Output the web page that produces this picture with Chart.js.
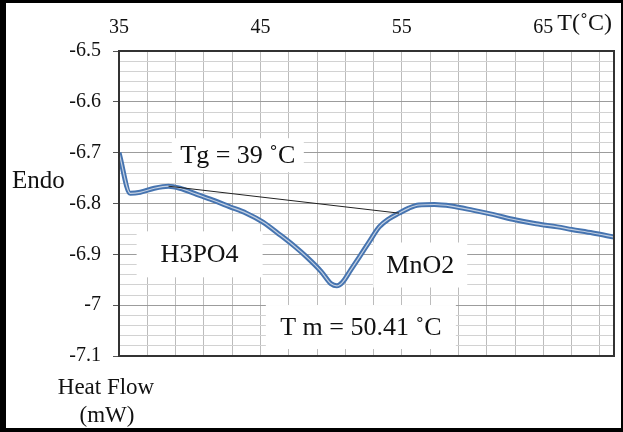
<!DOCTYPE html>
<html>
<head>
<meta charset="utf-8">
<title>DSC heat flow</title>
<script src="https://cdn.jsdelivr.net/npm/chart.js@4.4.1/dist/chart.umd.min.js"></script>
<style>
    html, body { margin: 0; padding: 0; background: #fff; }
    #wrap { width: 623px; height: 432px; position: relative; }
</style>
</head>
<body>
<div id="wrap"><canvas id="dscChart" width="623" height="432"></canvas></div>
<script>
/* ========================================
   DSC trace - heat flow vs temperature
   ======================================== */

// temperature (°C)
const temps = [35.0, 35.8, 36.5, 37.5, 38.5, 39.3, 40.5, 41.6, 42.8, 44.0,
               45.2, 46.4, 47.4, 48.3, 49.3, 50.0, 50.4, 50.8, 51.4, 52.0,
               52.7, 53.4, 54.1, 54.8, 55.5, 56.2, 57.3, 58.5, 60.0, 61.5,
               63.0, 64.5, 66.0, 67.0, 68.5, 70.0];

// heat flow (mW)
const heatFlow = [-6.700, -6.780, -6.778, -6.770, -6.766, -6.770, -6.782, -6.793, -6.806, -6.819,
                  -6.837, -6.862, -6.884, -6.906, -6.934, -6.958, -6.962, -6.955, -6.930, -6.905,
                  -6.875, -6.846, -6.830, -6.819, -6.809, -6.803, -6.802, -6.805, -6.813, -6.822,
                  -6.832, -6.840, -6.846, -6.851, -6.858, -6.866];

// baseline tangent used for Tg
const tangentT = [38.5, 54.8];
const tangentV = [-6.766, -6.819];

const xTickLabels = [35, 45, 55, 65];
const yTickLabels = [-6.5, -6.6, -6.7, -6.8, -6.9, -7, -7.1];

// text notes placed in data units
const notes = [
    { text: 'Tg = 39 \u02daC',      t: 43.4, v: -6.705, w: 132, h: 34 },
    { text: 'H3PO4',                t: 40.7, v: -6.900, w: 126, h: 46 },
    { text: 'MnO2',                 t: 56.3, v: -6.921, w: 94,  h: 45 },
    { text: 'T m = 50.41 \u02daC',  t: 52.1, v: -7.043, w: 190, h: 44 }
];

const SERIF = '"Liberation Serif", "Times New Roman", serif';

function isMajorY(v) {
    return yTickLabels.some(l => Math.abs(l - v) < 1e-6);
}

const pairs = (xs, ys) => xs.map((x, i) => ({ x: x, y: ys[i] }));

const framePlugin = {
    id: 'frame',
    beforeDatasetsDraw(chart) {
        const ctx = chart.ctx;
        const xs = chart.scales.x, ys = chart.scales.y;
        ctx.save();
        ctx.font = '26px ' + SERIF;
        ctx.textAlign = 'center';
        ctx.textBaseline = 'middle';
        notes.forEach(n => {
            const cx = xs.getPixelForValue(n.t);
            const cy = ys.getPixelForValue(n.v);
            ctx.fillStyle = '#fff';
            ctx.fillRect(cx - n.w / 2, cy - n.h / 2, n.w, n.h);
            ctx.fillStyle = '#111';
            ctx.fillText(n.text, cx, cy + 1);
        });
        ctx.restore();
    },
    afterDraw(chart) {
        const ctx = chart.ctx;
        const a = chart.chartArea;
        ctx.save();
        // plot frame
        ctx.strokeStyle = '#333';
        ctx.lineWidth = 2;
        ctx.strokeRect(a.left, a.top, a.right - a.left, a.bottom - a.top);

        // axis captions
        ctx.fillStyle = '#111';
        ctx.textBaseline = 'middle';
        ctx.textAlign = 'left';
        ctx.font = '25px ' + SERIF;
        ctx.fillText('Endo', 12, 181);
        ctx.font = '24px ' + SERIF;
        ctx.fillText('T(\u02daC)', chart.scales.x.getPixelForValue(65) + 14, 24);
        ctx.textAlign = 'center';
        ctx.font = '23px ' + SERIF;
        ctx.fillText('Heat Flow', 106, 388);
        ctx.fillText('(mW)', 107, 416);

        // outer black border
        ctx.fillStyle = '#000';
        ctx.fillRect(0, 0, 623, 3);
        ctx.fillRect(0, 428, 623, 4);
        ctx.fillRect(0, 0, 6, 432);
        ctx.fillRect(621, 0, 2, 432);
        ctx.restore();
    }
};

new Chart(document.getElementById('dscChart'), {
    type: 'line',
    data: {
        datasets: [
            {
                label: 'tangent',
                data: pairs(tangentT, tangentV),
                borderColor: '#222',
                borderWidth: 1,
                pointRadius: 0,
                tension: 0
            },
            {
                label: 'inner',
                data: pairs(temps, heatFlow),
                borderColor: '#c3d0e2',
                borderWidth: 1.2,
                pointRadius: 0,
                cubicInterpolationMode: 'monotone'
            },
            {
                label: 'heat flow',
                data: pairs(temps, heatFlow),
                borderColor: '#4674b0',
                borderWidth: 5,
                pointRadius: 0,
                cubicInterpolationMode: 'monotone'
            }
        ]
    },
    options: {
        responsive: false,
        animation: false,
        layout: { padding: { left: 0, top: 0, right: 9, bottom: 76 } },
        plugins: {
            legend: { display: false },
            tooltip: { enabled: false }
        },
        scales: {
            x: {
                type: 'linear',
                position: 'top',
                min: 35,
                max: 70,
                afterBuildTicks: function(scale) {
                    const t = [];
                    for (let v = 35; v <= 69; v += 2) t.push({ value: v });
                    scale.ticks = t;
                },
                afterFit: function(scale) { scale.height = 51; },
                border: { display: false },
                grid: {
                    color: '#bcbcbc',
                    lineWidth: 1,
                    drawTicks: false
                },
                ticks: {
                    autoSkip: false,
                    maxRotation: 0,
                    padding: 11,
                    color: '#111',
                    font: { family: SERIF, size: 20 },
                    callback: function(value) {
                        return xTickLabels.includes(value) ? String(value) : '';
                    }
                }
            },
            y: {
                type: 'linear',
                min: -7.1,
                max: -6.5,
                afterBuildTicks: function(scale) {
                    const t = [];
                    for (let i = 0; i <= 30; i++) {
                        t.push({ value: Math.round((-7.1 + i * 0.02) * 100) / 100 });
                    }
                    scale.ticks = t;
                },
                afterFit: function(scale) { scale.width = 119; },
                border: { display: false },
                grid: {
                    color: ctx => isMajorY(ctx.tick.value) ? '#9c9c9c' : '#d2d2d2',
                    lineWidth: 1,
                    tickLength: 6,
                    tickColor: ctx => isMajorY(ctx.tick.value) ? '#555' : 'rgba(0,0,0,0)'
                },
                ticks: {
                    autoSkip: false,
                    padding: 12,
                    color: '#111',
                    font: { family: SERIF, size: 20 },
                    callback: function(value) {
                        return isMajorY(value) ? String(Math.round(value * 10) / 10) : '';
                    }
                }
            }
        }
    },
    plugins: [framePlugin]
});
</script>
</body>
</html>
